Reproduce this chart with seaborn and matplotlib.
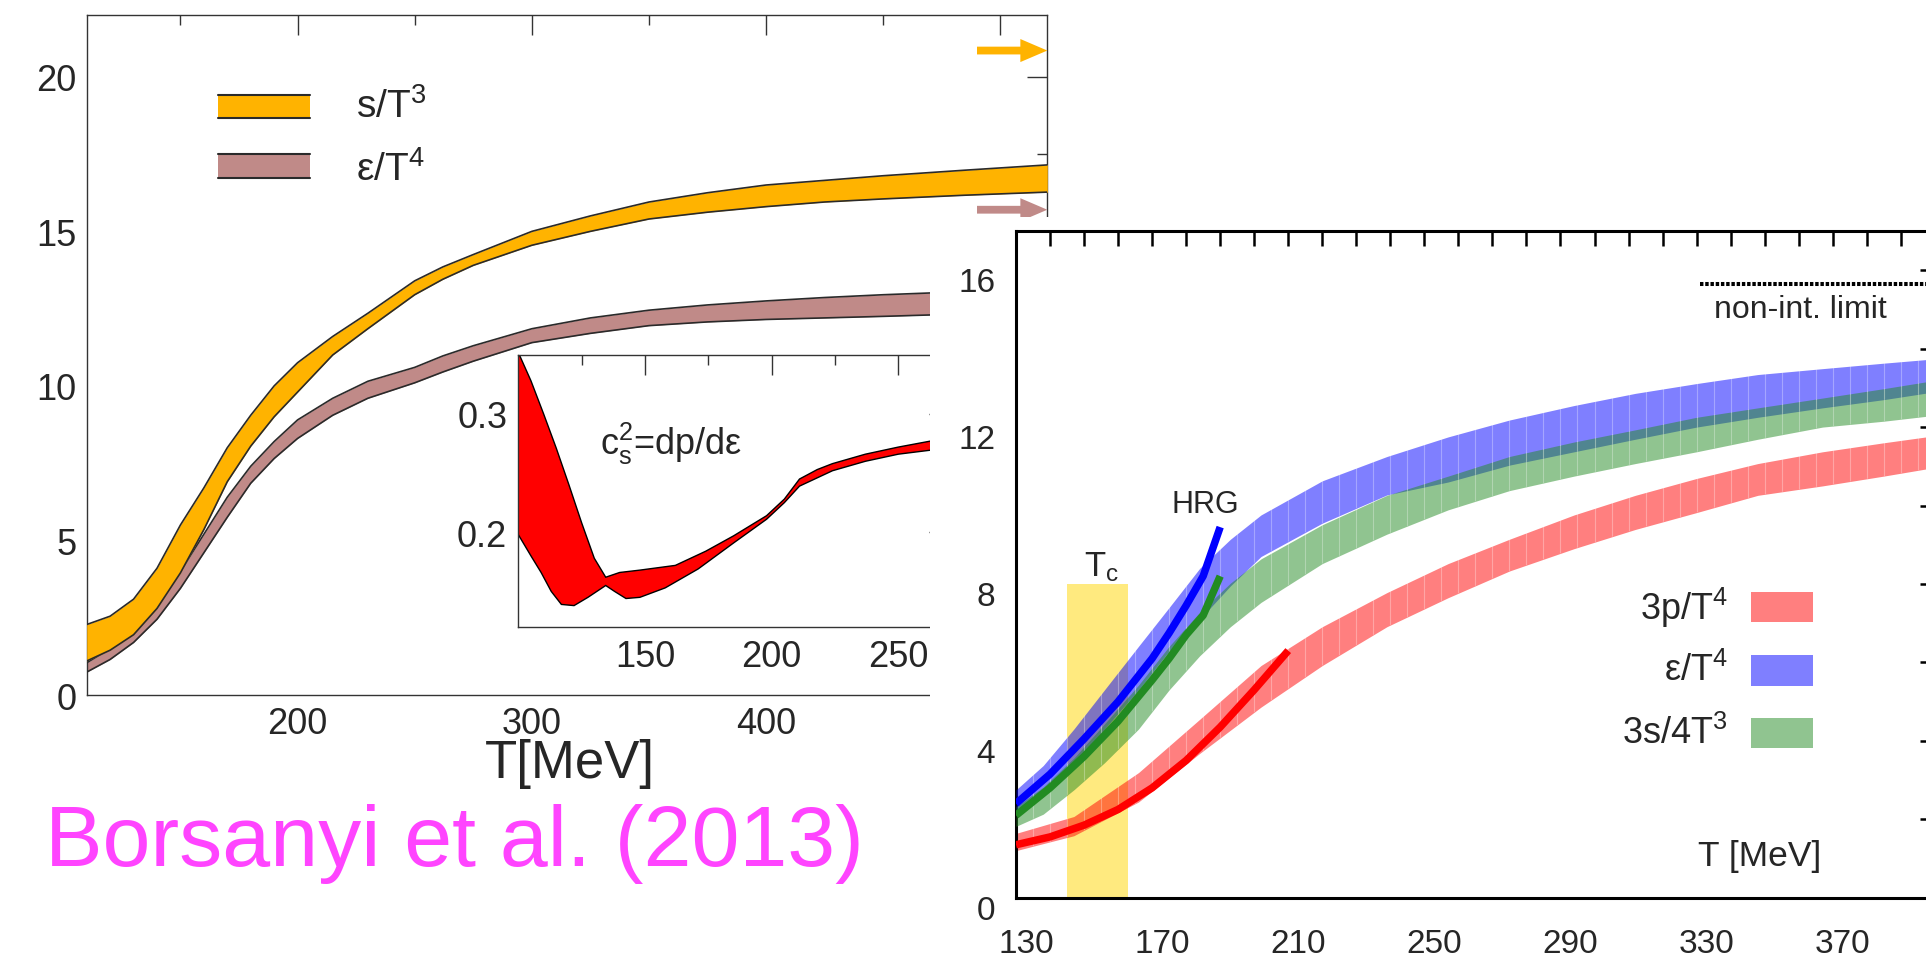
import numpy as np
import matplotlib
matplotlib.use("Agg")
import matplotlib.pyplot as plt
import seaborn as sns
from matplotlib.patches import Rectangle
from matplotlib.transforms import ScaledTranslation

# ---------------- data ----------------
# Left panel: Borsanyi et al. bands
T_left = [110, 120, 130, 140, 150, 160, 170, 180, 190, 200, 215, 230, 250, 262, 275, 300, 325, 350, 375, 400, 425, 450, 485, 520]
s_hi = [2.28, 2.55, 3.1, 4.1, 5.5, 6.7, 8.0, 9.05, 10.0, 10.75, 11.6, 12.35, 13.4, 13.85, 14.25, 15.0, 15.5, 15.95, 16.25, 16.5, 16.65, 16.8, 16.98, 17.15]
s_lo = [1.1, 1.45, 1.95, 2.8, 3.95, 5.35, 6.9, 8.05, 9.0, 9.8, 11.0, 11.85, 12.95, 13.45, 13.9, 14.55, 15.0, 15.4, 15.62, 15.8, 15.95, 16.05, 16.17, 16.27]
e_hi = [1.04, 1.5, 2.1, 2.9, 4.0, 5.2, 6.4, 7.4, 8.2, 8.9, 9.6, 10.15, 10.6, 10.97, 11.3, 11.85, 12.2, 12.45, 12.62, 12.75, 12.86, 12.95, 13.05, 13.15]
e_lo = [0.74, 1.15, 1.7, 2.45, 3.45, 4.6, 5.75, 6.85, 7.65, 8.3, 9.05, 9.6, 10.1, 10.45, 10.8, 11.4, 11.7, 11.95, 12.07, 12.15, 12.2, 12.25, 12.33, 12.4]
sb_limits = [20.85, 15.7]          # arrows: s/T^3, eps/T^4
legend_left = ["s/T^3", "ε/T^4"]

# Inset: speed of sound squared
T_cs_hi = [100, 105, 110, 115, 120, 125, 130, 134.5, 140, 148, 162, 174, 185, 198, 205, 211, 218, 224, 237, 250, 265]
cs_hi = [0.352, 0.328, 0.300, 0.271, 0.240, 0.208, 0.178, 0.162, 0.166, 0.168, 0.172, 0.184, 0.197, 0.214,
         0.228, 0.245, 0.253, 0.258, 0.266, 0.272, 0.278]
T_cs_lo = [100, 105, 109, 113, 117, 122, 127.5, 134.5, 138, 142.5, 148, 158, 171, 185, 198, 205, 211, 224, 237, 250, 265]
cs_lo = [0.198, 0.180, 0.166, 0.150, 0.139, 0.138, 0.145, 0.155, 0.150, 0.144, 0.145, 0.153, 0.169, 0.191,
         0.211, 0.225, 0.239, 0.252, 0.260, 0.266, 0.270]

# Right panel: HotQCD bands
T_p = [130, 147, 166, 184, 202, 220, 239, 257, 275, 294, 312, 330, 348, 367, 385, 400]
p3_hi = [1.64, 2.07, 3.19, 4.55, 5.92, 6.91, 7.78, 8.52, 9.14, 9.76, 10.26, 10.69, 11.07, 11.37, 11.6, 11.78]
p3_lo = [1.2, 1.58, 2.44, 3.68, 4.86, 5.92, 6.91, 7.65, 8.33, 8.9, 9.39, 9.82, 10.26, 10.5, 10.75, 10.97]
T_b = [130, 138, 147, 156, 166, 175, 184, 193, 202, 220, 239, 257, 275, 294, 312, 330, 348, 367, 385, 400]
eps_hi = [2.75, 3.37, 4.3, 5.3, 6.41, 7.4, 8.4, 9.14, 9.76, 10.63, 11.25, 11.75, 12.18, 12.55, 12.86, 13.11, 13.34, 13.49, 13.63, 13.74]
eps_lo = [2.13, 2.57, 3.3, 4.3, 5.3, 6.29, 7.1, 7.95, 8.7, 9.55, 10.27, 10.6, 11.03, 11.37, 11.69, 12.0, 12.25, 12.49, 12.7, 12.9]
s34_hi = [2.32, 2.82, 3.56, 4.43, 5.42, 6.41, 7.28, 8.02, 8.64, 9.51, 10.26, 10.75, 11.25, 11.62, 11.93, 12.25, 12.49, 12.74, 12.98, 13.19]
s34_lo = [1.82, 2.13, 2.75, 3.44, 4.3, 5.3, 6.17, 6.91, 7.53, 8.52, 9.27, 9.89, 10.38, 10.75, 11.07, 11.37, 11.69, 12.0, 12.15, 12.3]

# HRG curves
T_hrg_p = [130, 140, 150, 160, 170, 180, 190, 200, 210]
hrg_p3 = [1.35, 1.55, 1.85, 2.25, 2.8, 3.5, 4.35, 5.3, 6.3]
T_hrg = [130, 140, 150, 160, 170, 175, 180, 185, 190]
hrg_eps = [2.4, 3.15, 4.05, 5.0, 6.1, 6.75, 7.45, 8.2, 9.45]
hrg_s34 = [2.1, 2.8, 3.6, 4.5, 5.55, 6.1, 6.7, 7.2, 8.2]

Tc_range = [145, 163]
Tc_height = 8
sb_right = 15.65
legend_right = ["3p/T^4", "ε/T^4", "3s/4T^3"]
legend_right_y = [7.41, 5.8, 4.2]

# ---------------- style ----------------
sns.set_style("white")
plt.rcParams["font.family"] = ["Liberation Sans", "DejaVu Sans"]
plt.rcParams["mathtext.fontset"] = "custom"
plt.rcParams["mathtext.rm"] = "Liberation Sans"
plt.rcParams["mathtext.it"] = "Liberation Sans"
plt.rcParams["mathtext.bf"] = "Liberation Sans:bold"

ORANGE = "#FFB300"
BROWN = "#C08A88"
EDGE = "#2a2a2a"

W, H = 1926, 962
fig = plt.figure(figsize=(W / 100, H / 100), dpi=100)


def fx(px):
    return px / W


def fy(py):
    return 1 - py / H


# ---------------- left main panel ----------------
ax1 = fig.add_axes([fx(86.7), fy(696), (1047.3 - 86.7) / W, (696 - 16) / H], zorder=1)
ax1.fill_between(T_left, e_lo, e_hi, color=BROWN, lw=0, zorder=2)
sns.lineplot(x=T_left, y=e_hi, ax=ax1, color=EDGE, lw=1.2, zorder=3)
sns.lineplot(x=T_left, y=e_lo, ax=ax1, color=EDGE, lw=1.2, zorder=3)
ax1.fill_between(T_left, s_lo, s_hi, color=ORANGE, lw=0, zorder=4)
sns.lineplot(x=T_left, y=s_hi, ax=ax1, color=EDGE, lw=1.2, zorder=5)
sns.lineplot(x=T_left, y=s_lo, ax=ax1, color=EDGE, lw=1.2, zorder=5)
ax1.set_xlim(110, 520)
ax1.set_ylim(0, 22)
ax1.set_xlabel("")
ax1.set_ylabel("")
ax1.set_xticks([200, 300, 400, 500])
ax1.set_xticks([150, 250, 350, 450], minor=True)
ax1.set_yticks([0, 5, 10, 15, 20])
ax1.set_yticks([2.5, 7.5, 12.5, 17.5], minor=True)
ax1.tick_params(which="both", direction="in", top=True, right=True, width=1.0, color="#333333")
ax1.tick_params(which="major", length=14.4, labelsize=26)
ax1.tick_params(which="minor", length=7.2)
ax1.tick_params(axis="x", pad=7.7)
ax1.tick_params(axis="y", pad=7.2)
for sp in ax1.spines.values():
    sp.set_linewidth(1.0)
    sp.set_color("#333333")

# legend of left panel
for (y0, y1, col, lab, yb) in [(18.68, 19.42, ORANGE, legend_left[0], 18.7),
                               (16.73, 17.5, BROWN, legend_left[1], 16.65)]:
    ax1.fill_between([166.2, 205.1], y0, y1, color=col, lw=0, zorder=6)
    ax1.plot([166.2, 205.1], [y0, y0], color=EDGE, lw=1.5, zorder=7)
    ax1.plot([166.2, 205.1], [y1, y1], color=EDGE, lw=1.5, zorder=7)
    ax1.text(225, yb, r"$\mathregular{" + lab + "}$", fontsize=28, va="baseline", ha="left")

# SB limit arrows
for yv, col in zip(sb_limits, [ORANGE, BROWN]):
    ax1.annotate("", xy=(520, yv), xytext=(490, yv),
                 arrowprops=dict(arrowstyle="simple,head_length=0.97,head_width=0.83,tail_width=0.28",
                                 mutation_scale=20, color=col, lw=0, shrinkA=0, shrinkB=0),
                 annotation_clip=False, zorder=8)

# ---------------- inset ----------------
axin = fig.add_axes([fx(518.3), fy(627.9), (949 - 518.3) / W, (627.9 - 355.8) / H], zorder=2)
axin.set_facecolor("white")
xs = np.r_[np.array(T_cs_hi), np.array(T_cs_lo)[::-1]]
ys = np.r_[np.array(cs_hi), np.array(cs_lo)[::-1]]
axin.fill(xs, ys, facecolor="#FF0000", edgecolor="black", lw=1.0, zorder=2)
axin.set_xlim(100, 270)
axin.set_ylim(0.12, 0.35)
axin.set_xticks([150, 200, 250])
axin.set_xticks([125, 175, 225], minor=True)
axin.set_yticks([0.2, 0.3])
axin.set_yticks([0.15, 0.25], minor=True)
axin.tick_params(which="both", direction="in", top=True, right=True, width=1.0, color="#333333")
axin.tick_params(which="major", length=14.4, labelsize=26)
axin.tick_params(which="minor", length=7.2)
axin.tick_params(axis="x", pad=9)
axin.tick_params(axis="y", pad=8)
for sp in axin.spines.values():
    sp.set_linewidth(1.0)
    sp.set_color("#333333")
axin.text(132.3, 0.266, r"$\mathregular{c_s^2}$=dp/dε", fontsize=26, va="baseline", ha="left")

# ---------------- white cover under right panel ----------------
cover = fig.add_axes([fx(930), 0, (W - 930) / W, (962 - 218) / H], zorder=3)
cover.set_facecolor("white")
cover.set_xticks([])
cover.set_yticks([])
for sp in cover.spines.values():
    sp.set_visible(False)

# ---------------- right panel ----------------
ax2 = fig.add_axes([fx(1016), fy(898.7), (1934.8 - 1016) / W, (898.7 - 232) / H], zorder=4)
ax2.set_facecolor("white")
ax2.set_xlim(130, 400)
ax2.set_ylim(0, 17)

ax2.fill_between(Tc_range, 0, Tc_height, color="gold", alpha=0.5, lw=0, zorder=1)

seam_x = np.arange(135, 400, 5)


def band(T, lo, hi, col, z):
    coll = ax2.fill_between(T, lo, hi, color=col, alpha=0.5, lw=0, zorder=z)
    vl = ax2.vlines(seam_x, 0, 17, colors="white", alpha=0.3, lw=0.8, zorder=z + 0.1)
    vl.set_clip_path(coll.get_paths()[0], ax2.transData)


band(T_p, p3_lo, p3_hi, "#FF0000", 2)
band(T_b, eps_lo, eps_hi, "#0000FF", 3)
band(T_b, s34_lo, s34_hi, "#228B22", 4)

sns.lineplot(x=T_hrg_p, y=hrg_p3, ax=ax2, color="#FF0000", lw=5.4, zorder=6, solid_capstyle="butt")
sns.lineplot(x=T_hrg, y=hrg_eps, ax=ax2, color="#0000FF", lw=5.4, zorder=6, solid_capstyle="butt")
sns.lineplot(x=T_hrg, y=hrg_s34, ax=ax2, color="#228B22", lw=5.4, zorder=7, solid_capstyle="butt")
ax2.set_xlabel("")
ax2.set_ylabel("")

ax2.plot([331, 400], [sb_right, sb_right], color="black", lw=2.9, ls=(0, (0.85, 0.45)), zorder=6)
ax2.text(360.4, 15.01, "non-int. limit", fontsize=23, ha="center", va="center")
ax2.text(185.7, 10.04, "HRG", fontsize=22, ha="center", va="center")
ax2.text(155, 8.45, r"$\mathregular{T_c}$", fontsize=25, ha="center", va="center")
ax2.text(348.4, 1.08, "T [MeV]", fontsize=25.5, ha="center", va="center")

for lab, yc, col in zip(legend_right, legend_right_y, ["#FF0000", "#0000FF", "#228B22"]):
    ax2.add_patch(Rectangle((346.0, yc - 0.39), 18.1, 0.78, facecolor=col, alpha=0.5, lw=0, zorder=8))
    ax2.text(339.2, yc, r"$\mathregular{" + lab + "}$", fontsize=26, ha="right", va="center")

ax2.set_xticks(np.arange(130, 401, 40))
ax2.set_xticks(np.arange(130, 401, 10), minor=True)
ax2.set_yticks([0, 4, 8, 12, 16])
ax2.set_yticks([2, 6, 10, 14], minor=True)
ax2.tick_params(which="both", direction="in", top=True, right=True, length=10.8, width=1.8, color="black")
ax2.tick_params(which="major", labelsize=24)
ax2.tick_params(axis="x", pad=21.6)
ax2.tick_params(axis="y", pad=15)
for sp in ax2.spines.values():
    sp.set_linewidth(2.2)
    sp.set_color("black")

offx = ScaledTranslation(7.2 / 72, 0, fig.dpi_scale_trans)
offy = ScaledTranslation(0, -6.5 / 72, fig.dpi_scale_trans)
for t in ax2.xaxis.get_major_ticks():
    t.label1.set_transform(t.label1.get_transform() + offx)
for t in ax2.yaxis.get_major_ticks():
    t.label1.set_transform(t.label1.get_transform() + offy)

# ---------------- figure texts ----------------
fig.text(fx(570), fy(778), "T[MeV]", fontsize=38, ha="center", va="baseline")
fig.text(fx(45), fy(866), "Borsanyi et al. (2013)", fontsize=62, color="#FF44FF", ha="left", va="baseline")

fig.savefig("out.png", dpi=100)
